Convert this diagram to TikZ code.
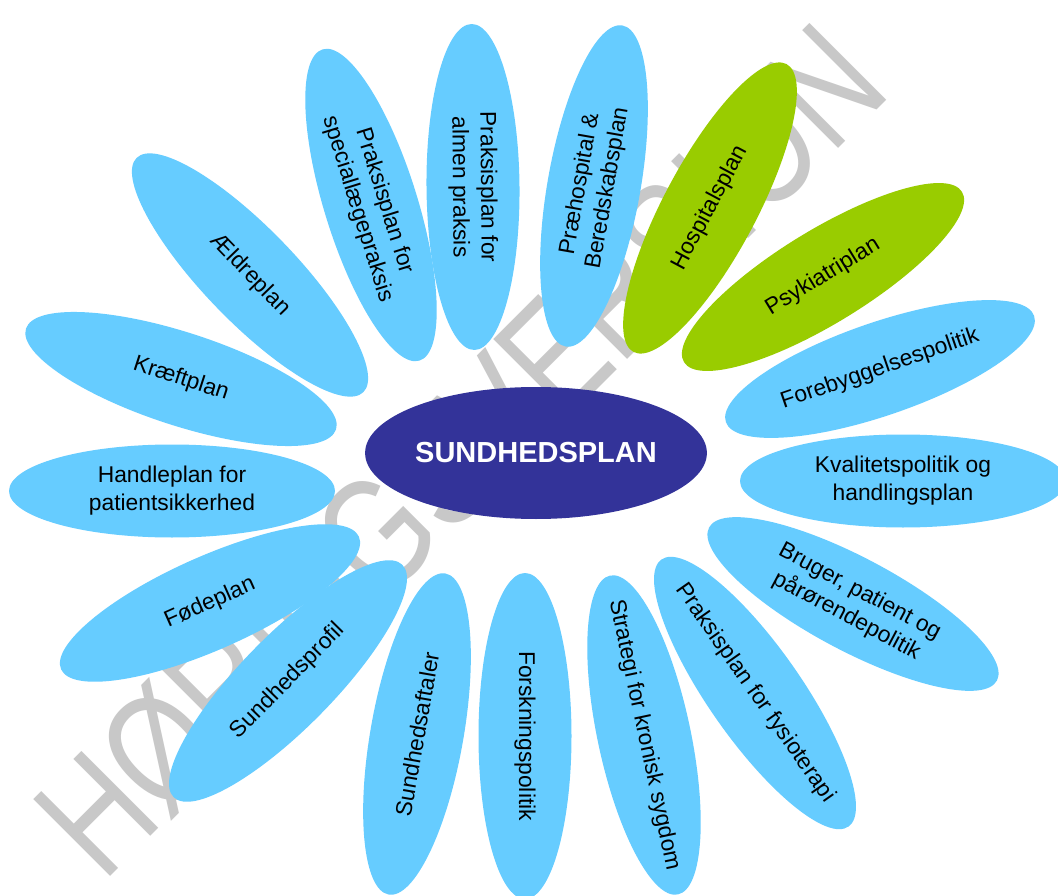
\documentclass[tikz,border=0pt]{standalone}
\usepackage{fontspec}
\usepackage{graphicx}
\setmainfont{Liberation Sans}
\usetikzlibrary{shapes.geometric}
\definecolor{petalblue}{RGB}{102,204,255}
\definecolor{petalgreen}{RGB}{153,204,0}
\definecolor{hubblue}{RGB}{51,51,153}
\definecolor{wmgray}{RGB}{200,200,200}
\newcommand{\flowerpetal}[6]{%
  \node[petal, fill=#5, rotate=#4] (#1) at (#2,#3) {};
  \node[lbl, rotate=#4] (#1t) at (#1.center) {#6};
}
\begin{document}
\begin{tikzpicture}[x=1pt,y=-1pt,
  petal/.style={ellipse, draw=none, inner sep=0pt, minimum width=326pt, minimum height=93pt},
  lbl/.style={inner sep=0pt, align=center, font=\fontsize{22.8}{28}\selectfont, text=black},
  hub/.style={ellipse, draw=none, fill=hubblue, inner sep=0pt, minimum width=308pt, minimum height=132pt,
    text=white, font=\fontsize{29}{34}\selectfont\bfseries},
  watermark/.style={anchor=base west, inner sep=0pt, text=wmgray, font=\fontsize{158}{158}\selectfont}]
\useasboundingbox (0,0) rectangle (1058,896);
\fill[white] (0,0) rectangle (1058,896);
% watermark
\node[watermark, rotate=45] (wm) at (103,884) {\scalebox{0.772}[1]{HØRINGSVERSION}};
% petals
\flowerpetal{pA}{594}{186}{80}{petalblue}{Præhospital \&\\Beredskabsplan}
\flowerpetal{pB}{710}{208}{62}{petalgreen}{Hospitalsplan}
\flowerpetal{pC}{823}{277}{31.5}{petalgreen}{Psykiatriplan}
\flowerpetal{pD}{880}{369}{19}{petalblue}{Forebyggelsespolitik}
\flowerpetal{pE}{903}{481}{0}{petalblue}{Kvalitetspolitik og\\handlingsplan}
\flowerpetal{pF}{853}{604}{-28}{petalblue}{Bruger, patient og\\pårørendepolitik}
\flowerpetal{pG}{755}{693}{-55}{petalblue}{Praksisplan for fysioterapi}
\flowerpetal{pH}{644}{735}{-78}{petalblue}{Strategi for kronisk sygdom}
\flowerpetal{pI}{525}{736}{-90}{petalblue}{Forskningspolitik}
\flowerpetal{pJ}{417}{734}{80}{petalblue}{Sundhedsaftaler}
\flowerpetal{pL}{210}{603}{24}{petalblue}{Fødeplan}
\flowerpetal{pK}{288}{681}{45.5}{petalblue}{Sundhedsprofil}
\flowerpetal{pM}{172}{491}{0}{petalblue}{Handleplan for\\patientsikkerhed}
\flowerpetal{pN}{181}{379}{-18}{petalblue}{Kræftplan}
\flowerpetal{pO}{250}{275}{-46}{petalblue}{Ældreplan}
\flowerpetal{pP}{371}{205}{-72.7}{petalblue}{Praksisplan for\\speciallægepraksis}
\flowerpetal{pQ}{473}{187}{-89.5}{petalblue}{Praksisplan for\\almen praksis}
% hub
\node[hub] (hubnode) at (536,453) {SUNDHEDSPLAN};
\end{tikzpicture}
\end{document}
